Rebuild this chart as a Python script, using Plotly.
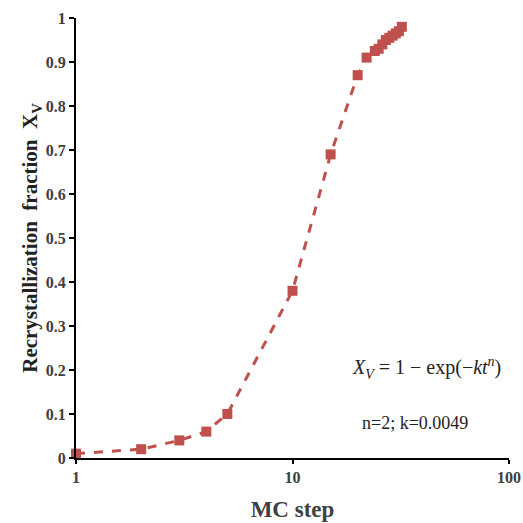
import plotly.graph_objects as go

steps = [1, 2, 3, 4, 5, 10, 15, 20, 22, 24, 25, 26, 27, 28, 29, 30, 31, 32]
fraction = [0.01, 0.02, 0.04, 0.06, 0.10, 0.38, 0.69, 0.87, 0.91, 0.925, 0.93, 0.94, 0.95, 0.955, 0.96, 0.965, 0.97, 0.98]
x_ticks = [1, 10, 100]
y_ticks = [0, 0.1, 0.2, 0.3, 0.4, 0.5, 0.6, 0.7, 0.8, 0.9, 1]
y_labels = ["0", "0.1", "0.2", "0.3", "0.4", "0.5", "0.6", "0.7", "0.8", "0.9", "1"]

red = "#C0504D"
serif = "Liberation Serif, Times New Roman, serif"

fig = go.Figure()
fig.add_trace(go.Scatter(
    x=steps, y=fraction, mode="lines+markers",
    line=dict(color=red, width=3, dash="dash"),
    marker=dict(symbol="square", size=10, color=red),
    cliponaxis=False, showlegend=False,
))

fig.update_layout(
    width=523, height=523,
    margin=dict(l=76, r=14, t=18, b=65),
    paper_bgcolor="white", plot_bgcolor="white",
    font=dict(family=serif, color="#404040"),
    xaxis=dict(
        type="log", range=[0, 2], automargin=False,
        tickvals=x_ticks, ticktext=["<b>%s</b>" % v for v in x_ticks],
        ticks="outside", ticklen=4, tickwidth=1.5, tickcolor="black",
        showline=True, linecolor="black", linewidth=2,
        showgrid=False, zeroline=False,
        tickfont=dict(family=serif, size=16, color="#404040"),
        title=dict(text="<b>MC step</b>", font=dict(family=serif, size=23, color="#404040"), standoff=16),
    ),
    yaxis=dict(
        range=[0, 1], automargin=False,
        tickvals=y_ticks, ticktext=["<b>%s</b>" % t for t in y_labels],
        ticks="outside", ticklen=5, tickwidth=1.5, tickcolor="black",
        showline=True, linecolor="black", linewidth=2,
        showgrid=False, zeroline=False,
        tickfont=dict(family=serif, size=16, color="#404040"),
        title=dict(text="<b>Recrystallization  fraction  X<sub>V</sub></b>", font=dict(family=serif, size=21, color="#222222"), standoff=2),
    ),
)

fig.add_annotation(
    xref="paper", yref="paper", x=0.985, y=0.205, xanchor="right", yanchor="middle",
    text="<i>X<sub>V</sub></i> = 1 − exp(−<i>kt<sup>n</sup></i>)",
    showarrow=False, font=dict(family=serif, size=20, color="#222222"),
)
fig.add_annotation(
    xref="paper", yref="paper", x=0.91, y=0.08, xanchor="right", yanchor="middle",
    text="n=2; k=0.0049",
    showarrow=False, font=dict(family=serif, size=18, color="#222222"),
)

fig.write_html(
    "out.html",
    config={"displayModeBar": False},
    post_script="document.body.style.margin='0';document.body.style.overflow='hidden';",
)
